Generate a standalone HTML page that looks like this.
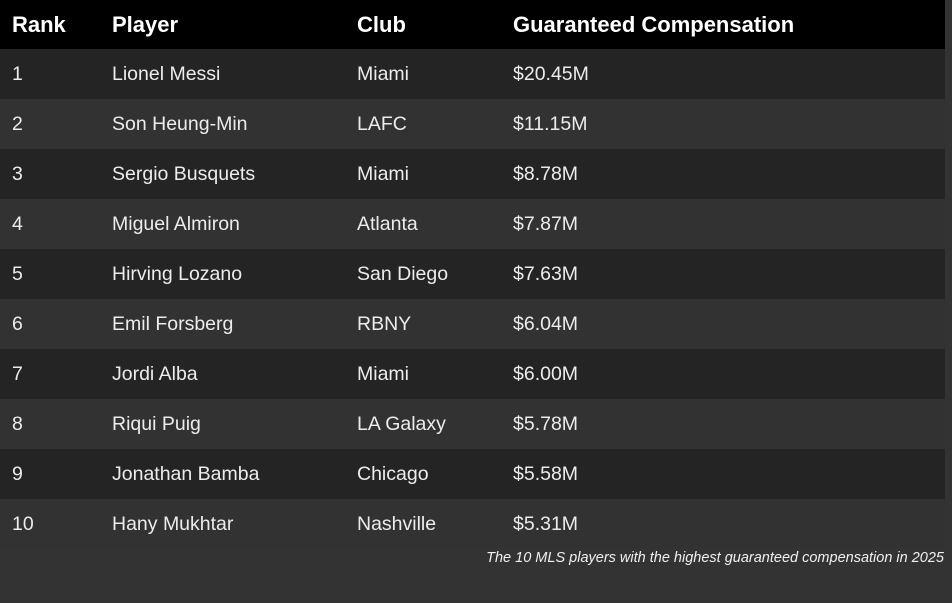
<!DOCTYPE html>
<html>
<head>
<meta charset="utf-8">
<style>
  html, body { margin:0; padding:0; }
  body { width:952px; height:603px; background:#333333; overflow:hidden; position:relative; font-family:"Liberation Sans", Arial, sans-serif; }
  .row { position:absolute; left:0; width:945px; height:50px; }
  .hdr { top:0; height:49px; background:#000; color:#fff; font-weight:bold; font-size:22px; }
  .dark { background:#242424; }
  .light { background:#323232; }
  .cell { position:absolute; top:0; height:100%; display:flex; align-items:center; white-space:nowrap; }
  .body .cell { color:#ececec; font-size:19.5px; }
  .c1 { left:12px; } .c2 { left:112px; } .c3 { left:357px; } .c4 { left:513px; }
  .cap { position:absolute; right:8px; top:547px; font-style:italic; font-size:14.5px; color:#f0f0f0; white-space:nowrap; line-height:22px; }
</style>
</head>
<body>
  <div class="row hdr"><div class="cell c1">Rank</div><div class="cell c2">Player</div><div class="cell c3">Club</div><div class="cell c4">Guaranteed Compensation</div></div>
  <div class="row body dark" style="top:49px"><div class="cell c1">1</div><div class="cell c2">Lionel Messi</div><div class="cell c3">Miami</div><div class="cell c4">$20.45M</div></div>
  <div class="row body light" style="top:99px"><div class="cell c1">2</div><div class="cell c2">Son Heung-Min</div><div class="cell c3">LAFC</div><div class="cell c4">$11.15M</div></div>
  <div class="row body dark" style="top:149px"><div class="cell c1">3</div><div class="cell c2">Sergio Busquets</div><div class="cell c3">Miami</div><div class="cell c4">$8.78M</div></div>
  <div class="row body light" style="top:199px"><div class="cell c1">4</div><div class="cell c2">Miguel Almiron</div><div class="cell c3">Atlanta</div><div class="cell c4">$7.87M</div></div>
  <div class="row body dark" style="top:249px"><div class="cell c1">5</div><div class="cell c2">Hirving Lozano</div><div class="cell c3">San Diego</div><div class="cell c4">$7.63M</div></div>
  <div class="row body light" style="top:299px"><div class="cell c1">6</div><div class="cell c2">Emil Forsberg</div><div class="cell c3">RBNY</div><div class="cell c4">$6.04M</div></div>
  <div class="row body dark" style="top:349px"><div class="cell c1">7</div><div class="cell c2">Jordi Alba</div><div class="cell c3">Miami</div><div class="cell c4">$6.00M</div></div>
  <div class="row body light" style="top:399px"><div class="cell c1">8</div><div class="cell c2">Riqui Puig</div><div class="cell c3">LA Galaxy</div><div class="cell c4">$5.78M</div></div>
  <div class="row body dark" style="top:449px"><div class="cell c1">9</div><div class="cell c2">Jonathan Bamba</div><div class="cell c3">Chicago</div><div class="cell c4">$5.58M</div></div>
  <div class="row body light" style="top:499px"><div class="cell c1">10</div><div class="cell c2">Hany Mukhtar</div><div class="cell c3">Nashville</div><div class="cell c4">$5.31M</div></div>
  <div class="cap">The 10 MLS players with the highest guaranteed compensation in 2025</div>
</body>
</html>
